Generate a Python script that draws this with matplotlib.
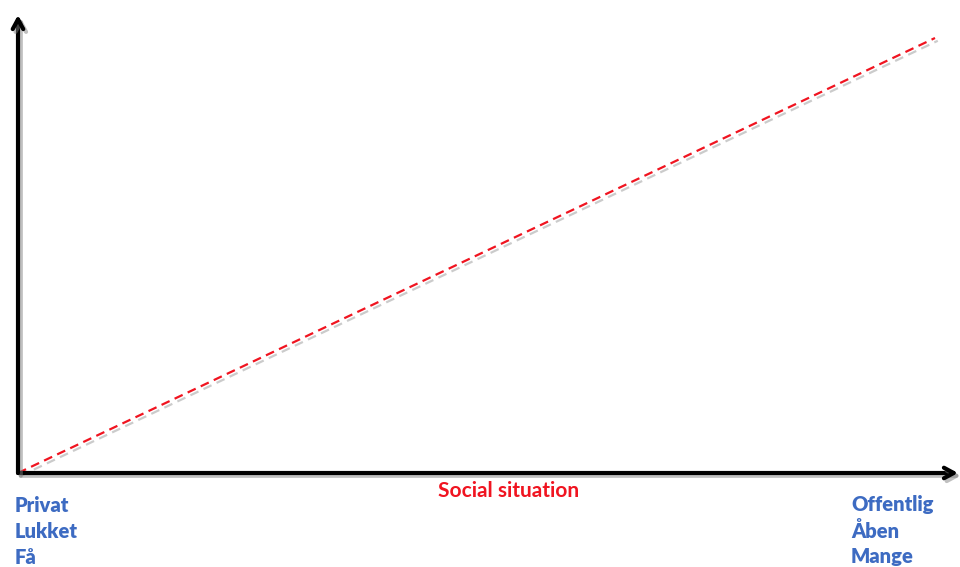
import matplotlib.pyplot as plt
import matplotlib.patheffects as pe

# data: the dashed relation from private/closed/few to public/open/many
social_x = [0.0, 1.0]
level_y = [0.0, 1.0]

left_labels = ["Privat", "Lukket", "Få"]
right_labels = ["Offentlig", "Åben", "Mange"]
x_title = "Social situation"

BLUE = "#3d6bc2"
RED = "#f01420"

plt.rcParams['font.family'] = ['Lato', 'DejaVu Sans']

fig = plt.figure(figsize=(9.6, 5.67), dpi=100)
W, H = 960, 567
x0, x1 = 18, 935
y0, y1 = 473, 38
ax = fig.add_axes([x0 / W, 1 - y0 / H, (x1 - x0) / W, (y0 - y1) / H])
ax.set_xlim(0, 1)
ax.set_ylim(0, 1)
ax.axis('off')

shadow = [pe.SimpleLineShadow(offset=(2, -2), shadow_color='0.6', alpha=0.5), pe.Normal()]

# dashed red line
ax.plot(social_x, level_y, color=RED, lw=1.6, dashes=(4, 2.5),
        path_effects=shadow, clip_on=False, zorder=3)

# axes arrows
ax_tip_x = (958 - x0) / (x1 - x0)
ax_tip_y = (y0 - 15) / (y0 - y1)
arrow = dict(arrowstyle='->,head_length=0.7,head_width=0.38', lw=3.0, color='black',
             shrinkA=0, shrinkB=0,
             path_effects=[pe.SimpleLineShadow(offset=(2, -2), shadow_color='0.5', alpha=0.5), pe.Normal()])
ax.annotate('', xy=(ax_tip_x, 0), xytext=(0, 0), arrowprops=arrow, annotation_clip=False, zorder=4)
ax.annotate('', xy=(0, ax_tip_y), xytext=(0, 0), arrowprops=arrow, annotation_clip=False, zorder=4)

# labels
for i, t in enumerate(left_labels):
    fig.text(15 / W, 1 - (505 + 26 * i) / H, t, color=BLUE, fontsize=14.5,
             fontweight='heavy', ha='left', va='center')
for i, t in enumerate(right_labels):
    fig.text(851 / W, 1 - (505 + 26 * i) / H, t, color=BLUE, fontsize=14.5,
             fontweight='heavy', ha='left', va='center')
fig.text(509 / W, 1 - 491 / H, x_title, color=RED, fontsize=15,
         fontweight='bold', ha='center', va='center')

fig.savefig('out.png', dpi=100)
